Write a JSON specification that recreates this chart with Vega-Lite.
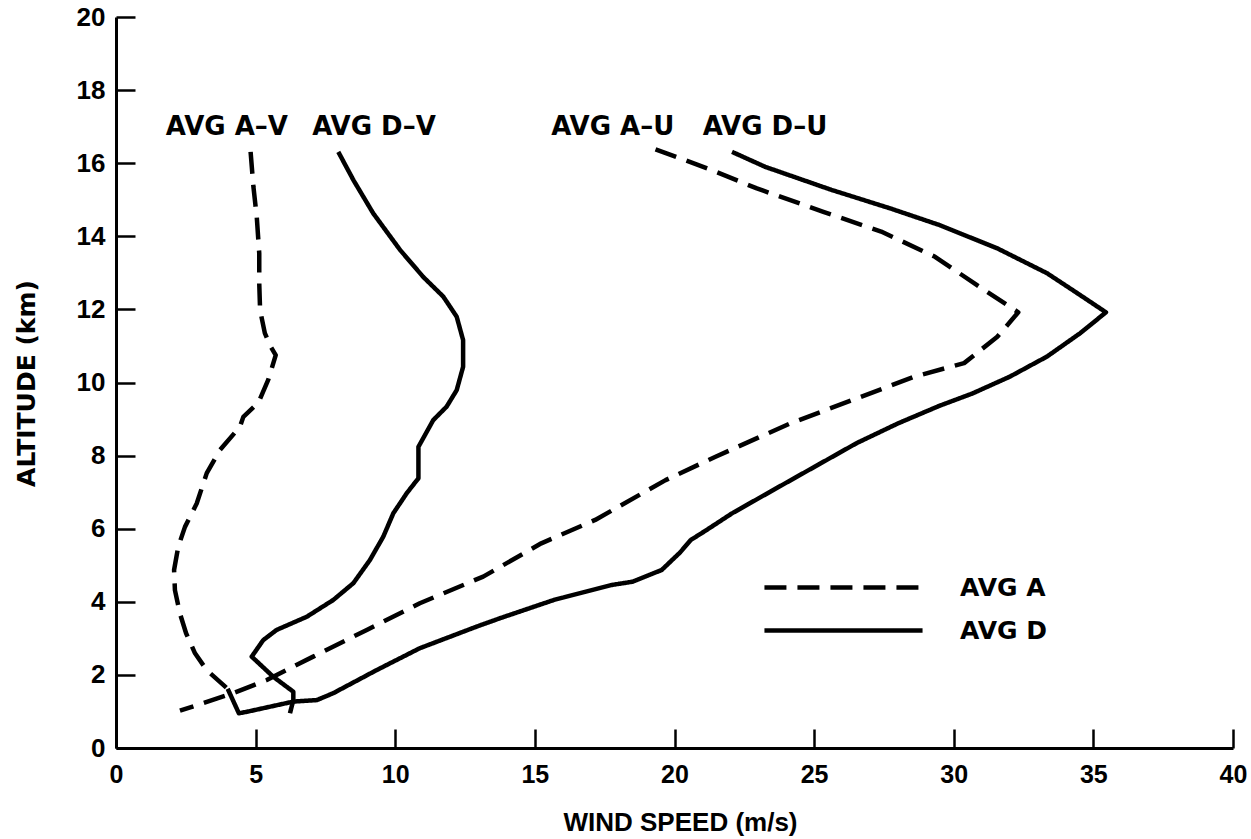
{
  "$schema": "https://vega.github.io/schema/vega-lite/v6.json",
  "width": 1117,
  "height": 731,
  "autosize": "none",
  "padding": {"left": 116, "top": 17, "right": 18, "bottom": 91},
  "background": "white",
  "config": {
    "view": {"stroke": null},
    "axis": {
      "domainColor": "black",
      "domainWidth": 3,
      "tickColor": "black",
      "tickWidth": 2.5,
      "tickSize": -19,
      "grid": false,
      "labelColor": "black",
      "labelFont": "Liberation Sans",
      "labelFontWeight": "bold",
      "labelOverlap": false,
      "labelFlush": false,
      "titleColor": "black"
    }
  },
  "datasets": {
    "curves": [
      {"series": "A-V", "group": "AVG A", "i": 1, "speed": 4.82, "alt": 16.31},
      {"series": "A-V", "group": "AVG A", "i": 2, "speed": 4.92, "alt": 15.36},
      {"series": "A-V", "group": "AVG A", "i": 3, "speed": 5.04, "alt": 14.54},
      {"series": "A-V", "group": "AVG A", "i": 4, "speed": 5.13, "alt": 13.53},
      {"series": "A-V", "group": "AVG A", "i": 5, "speed": 5.13, "alt": 12.71},
      {"series": "A-V", "group": "AVG A", "i": 6, "speed": 5.16, "alt": 11.98},
      {"series": "A-V", "group": "AVG A", "i": 7, "speed": 5.33, "alt": 11.35},
      {"series": "A-V", "group": "AVG A", "i": 8, "speed": 5.54, "alt": 10.98},
      {"series": "A-V", "group": "AVG A", "i": 9, "speed": 5.72, "alt": 10.75},
      {"series": "A-V", "group": "AVG A", "i": 10, "speed": 5.45, "alt": 10.07},
      {"series": "A-V", "group": "AVG A", "i": 11, "speed": 5.10, "alt": 9.45},
      {"series": "A-V", "group": "AVG A", "i": 12, "speed": 4.56, "alt": 9.06},
      {"series": "A-V", "group": "AVG A", "i": 13, "speed": 4.44, "alt": 8.79},
      {"series": "A-V", "group": "AVG A", "i": 14, "speed": 3.72, "alt": 8.15},
      {"series": "A-V", "group": "AVG A", "i": 15, "speed": 3.25, "alt": 7.52},
      {"series": "A-V", "group": "AVG A", "i": 16, "speed": 2.89, "alt": 6.69},
      {"series": "A-V", "group": "AVG A", "i": 17, "speed": 2.47, "alt": 6.05},
      {"series": "A-V", "group": "AVG A", "i": 18, "speed": 2.23, "alt": 5.51},
      {"series": "A-V", "group": "AVG A", "i": 19, "speed": 2.08, "alt": 4.87},
      {"series": "A-V", "group": "AVG A", "i": 20, "speed": 2.11, "alt": 4.32},
      {"series": "A-V", "group": "AVG A", "i": 21, "speed": 2.29, "alt": 3.68},
      {"series": "A-V", "group": "AVG A", "i": 22, "speed": 2.51, "alt": 3.14},
      {"series": "A-V", "group": "AVG A", "i": 23, "speed": 2.83, "alt": 2.59},
      {"series": "A-V", "group": "AVG A", "i": 24, "speed": 3.25, "alt": 2.13},
      {"series": "A-V", "group": "AVG A", "i": 25, "speed": 3.72, "alt": 1.81},
      {"series": "A-V", "group": "AVG A", "i": 26, "speed": 3.95, "alt": 1.65},

      {"series": "D-V", "group": "AVG D", "i": 1, "speed": 7.96, "alt": 16.31},
      {"series": "D-V", "group": "AVG D", "i": 2, "speed": 8.50, "alt": 15.54},
      {"series": "D-V", "group": "AVG D", "i": 3, "speed": 9.21, "alt": 14.63},
      {"series": "D-V", "group": "AVG D", "i": 4, "speed": 10.17, "alt": 13.63},
      {"series": "D-V", "group": "AVG D", "i": 5, "speed": 11.0, "alt": 12.89},
      {"series": "D-V", "group": "AVG D", "i": 6, "speed": 11.72, "alt": 12.35},
      {"series": "D-V", "group": "AVG D", "i": 7, "speed": 12.2, "alt": 11.8},
      {"series": "D-V", "group": "AVG D", "i": 8, "speed": 12.43, "alt": 11.16},
      {"series": "D-V", "group": "AVG D", "i": 9, "speed": 12.43, "alt": 10.43},
      {"series": "D-V", "group": "AVG D", "i": 10, "speed": 12.2, "alt": 9.79},
      {"series": "D-V", "group": "AVG D", "i": 11, "speed": 11.84, "alt": 9.34},
      {"series": "D-V", "group": "AVG D", "i": 12, "speed": 11.36, "alt": 8.97},
      {"series": "D-V", "group": "AVG D", "i": 13, "speed": 10.83, "alt": 8.24},
      {"series": "D-V", "group": "AVG D", "i": 14, "speed": 10.83, "alt": 7.38},
      {"series": "D-V", "group": "AVG D", "i": 15, "speed": 10.41, "alt": 6.97},
      {"series": "D-V", "group": "AVG D", "i": 16, "speed": 9.93, "alt": 6.42},
      {"series": "D-V", "group": "AVG D", "i": 17, "speed": 9.57, "alt": 5.78},
      {"series": "D-V", "group": "AVG D", "i": 18, "speed": 9.09, "alt": 5.14},
      {"series": "D-V", "group": "AVG D", "i": 19, "speed": 8.50, "alt": 4.51},
      {"series": "D-V", "group": "AVG D", "i": 20, "speed": 7.78, "alt": 4.05},
      {"series": "D-V", "group": "AVG D", "i": 21, "speed": 6.83, "alt": 3.59},
      {"series": "D-V", "group": "AVG D", "i": 22, "speed": 5.75, "alt": 3.23},
      {"series": "D-V", "group": "AVG D", "i": 23, "speed": 5.27, "alt": 2.95},
      {"series": "D-V", "group": "AVG D", "i": 24, "speed": 4.86, "alt": 2.50},
      {"series": "D-V", "group": "AVG D", "i": 25, "speed": 5.63, "alt": 1.95},
      {"series": "D-V", "group": "AVG D", "i": 26, "speed": 6.35, "alt": 1.54},
      {"series": "D-V", "group": "AVG D", "i": 27, "speed": 6.35, "alt": 1.31},
      {"series": "D-V", "group": "AVG D", "i": 28, "speed": 6.23, "alt": 0.95},

      {"series": "A-U", "group": "AVG A", "i": 1, "speed": 19.32, "alt": 16.38},
      {"series": "A-U", "group": "AVG A", "i": 2, "speed": 21.17, "alt": 15.86},
      {"series": "A-U", "group": "AVG A", "i": 3, "speed": 22.95, "alt": 15.31},
      {"series": "A-U", "group": "AVG A", "i": 4, "speed": 25.33, "alt": 14.67},
      {"series": "A-U", "group": "AVG A", "i": 5, "speed": 27.40, "alt": 14.13},
      {"series": "A-U", "group": "AVG A", "i": 6, "speed": 29.33, "alt": 13.44},
      {"series": "A-U", "group": "AVG A", "i": 7, "speed": 30.82, "alt": 12.67},
      {"series": "A-U", "group": "AVG A", "i": 8, "speed": 32.31, "alt": 11.92},
      {"series": "A-U", "group": "AVG A", "i": 9, "speed": 31.56, "alt": 11.25},
      {"series": "A-U", "group": "AVG A", "i": 10, "speed": 30.37, "alt": 10.53},
      {"series": "A-U", "group": "AVG A", "i": 11, "speed": 28.59, "alt": 10.16},
      {"series": "A-U", "group": "AVG A", "i": 12, "speed": 26.37, "alt": 9.52},
      {"series": "A-U", "group": "AVG A", "i": 13, "speed": 24.14, "alt": 8.88},
      {"series": "A-U", "group": "AVG A", "i": 14, "speed": 21.47, "alt": 7.97},
      {"series": "A-U", "group": "AVG A", "i": 15, "speed": 19.68, "alt": 7.33},
      {"series": "A-U", "group": "AVG A", "i": 16, "speed": 17.16, "alt": 6.24},
      {"series": "A-U", "group": "AVG A", "i": 17, "speed": 15.23, "alt": 5.60},
      {"series": "A-U", "group": "AVG A", "i": 18, "speed": 13.15, "alt": 4.69},
      {"series": "A-U", "group": "AVG A", "i": 19, "speed": 10.88, "alt": 3.96},
      {"series": "A-U", "group": "AVG A", "i": 20, "speed": 8.98, "alt": 3.23},
      {"series": "A-U", "group": "AVG A", "i": 21, "speed": 7.06, "alt": 2.50},
      {"series": "A-U", "group": "AVG A", "i": 22, "speed": 5.40, "alt": 1.86},
      {"series": "A-U", "group": "AVG A", "i": 23, "speed": 4.20, "alt": 1.50},
      {"series": "A-U", "group": "AVG A", "i": 24, "speed": 2.29, "alt": 1.02},

      {"series": "D-U", "group": "AVG D", "i": 1, "speed": 22.06, "alt": 16.31},
      {"series": "D-U", "group": "AVG D", "i": 2, "speed": 23.25, "alt": 15.90},
      {"series": "D-U", "group": "AVG D", "i": 3, "speed": 25.62, "alt": 15.27},
      {"series": "D-U", "group": "AVG D", "i": 4, "speed": 27.70, "alt": 14.77},
      {"series": "D-U", "group": "AVG D", "i": 5, "speed": 29.48, "alt": 14.31},
      {"series": "D-U", "group": "AVG D", "i": 6, "speed": 31.56, "alt": 13.67},
      {"series": "D-U", "group": "AVG D", "i": 7, "speed": 33.34, "alt": 12.99},
      {"series": "D-U", "group": "AVG D", "i": 8, "speed": 34.53, "alt": 12.39},
      {"series": "D-U", "group": "AVG D", "i": 9, "speed": 35.45, "alt": 11.92},
      {"series": "D-U", "group": "AVG D", "i": 10, "speed": 34.53, "alt": 11.35},
      {"series": "D-U", "group": "AVG D", "i": 11, "speed": 33.34, "alt": 10.71},
      {"series": "D-U", "group": "AVG D", "i": 12, "speed": 32.01, "alt": 10.16},
      {"series": "D-U", "group": "AVG D", "i": 13, "speed": 30.67, "alt": 9.70},
      {"series": "D-U", "group": "AVG D", "i": 14, "speed": 29.48, "alt": 9.36},
      {"series": "D-U", "group": "AVG D", "i": 15, "speed": 28.0, "alt": 8.88},
      {"series": "D-U", "group": "AVG D", "i": 16, "speed": 26.52, "alt": 8.34},
      {"series": "D-U", "group": "AVG D", "i": 17, "speed": 25.03, "alt": 7.70},
      {"series": "D-U", "group": "AVG D", "i": 18, "speed": 23.54, "alt": 7.06},
      {"series": "D-U", "group": "AVG D", "i": 19, "speed": 22.06, "alt": 6.42},
      {"series": "D-U", "group": "AVG D", "i": 20, "speed": 21.1, "alt": 5.94},
      {"series": "D-U", "group": "AVG D", "i": 21, "speed": 20.58, "alt": 5.69},
      {"series": "D-U", "group": "AVG D", "i": 22, "speed": 20.2, "alt": 5.35},
      {"series": "D-U", "group": "AVG D", "i": 23, "speed": 19.54, "alt": 4.87},
      {"series": "D-U", "group": "AVG D", "i": 24, "speed": 18.50, "alt": 4.55},
      {"series": "D-U", "group": "AVG D", "i": 25, "speed": 17.75, "alt": 4.46},
      {"series": "D-U", "group": "AVG D", "i": 26, "speed": 15.68, "alt": 4.05},
      {"series": "D-U", "group": "AVG D", "i": 27, "speed": 13.75, "alt": 3.55},
      {"series": "D-U", "group": "AVG D", "i": 28, "speed": 12.91, "alt": 3.32},
      {"series": "D-U", "group": "AVG D", "i": 29, "speed": 10.88, "alt": 2.73},
      {"series": "D-U", "group": "AVG D", "i": 30, "speed": 9.33, "alt": 2.13},
      {"series": "D-U", "group": "AVG D", "i": 31, "speed": 7.78, "alt": 1.50},
      {"series": "D-U", "group": "AVG D", "i": 32, "speed": 7.19, "alt": 1.31},
      {"series": "D-U", "group": "AVG D", "i": 33, "speed": 6.35, "alt": 1.27},
      {"series": "D-U", "group": "AVG D", "i": 34, "speed": 4.68, "alt": 0.99},
      {"series": "D-U", "group": "AVG D", "i": 35, "speed": 4.40, "alt": 0.95},
      {"series": "D-U", "group": "AVG D", "i": 36, "speed": 4.0, "alt": 1.62}
    ],
    "labels": [
      {"text": "AVG A–V", "speed": 3.97, "alt": 16.99},
      {"text": "AVG D–V", "speed": 9.24, "alt": 16.99},
      {"text": "AVG A–U", "speed": 17.79, "alt": 16.99},
      {"text": "AVG D–U", "speed": 23.24, "alt": 16.99}
    ]
  },
  "layer": [
    {
      "data": {"name": "curves"},
      "mark": {"type": "line", "color": "black", "strokeWidth": 4.5, "strokeJoin": "round", "strokeCap": "butt"},
      "encoding": {
        "x": {
          "field": "speed", "type": "quantitative",
          "scale": {"domain": [0, 40], "nice": false, "zero": false},
          "axis": {
            "values": [0, 5, 10, 15, 20, 25, 30, 35, 40],
            "labelFontSize": 25,
            "labelPadding": 33,
            "title": "WIND SPEED (m/s)",
            "titleFont": "Liberation Sans",
            "titleFontWeight": "bold",
            "titleFontSize": 26,
            "titleX": 564,
            "titleY": 82,
            "titleBaseline": "alphabetic",
            "titleAlign": "center"
          }
        },
        "y": {
          "field": "alt", "type": "quantitative",
          "scale": {"domain": [0, 20], "nice": false, "zero": false},
          "axis": {
            "values": [0, 2, 4, 6, 8, 10, 12, 14, 16, 18, 20],
            "labelFontSize": 26,
            "labelPadding": 30,
            "title": "ALTITUDE (km)",
            "titleFont": "DejaVu Sans",
            "titleFontWeight": "bold",
            "titleFontSize": 25,
            "titleAngle": 270,
            "titleX": -90,
            "titleY": 366,
            "titleAlign": "center",
            "titleBaseline": "middle"
          }
        },
        "detail": {"field": "series"},
        "order": {"field": "i", "type": "quantitative"},
        "strokeDash": {
          "field": "group", "type": "nominal",
          "scale": {"domain": ["AVG A", "AVG D"], "range": [[22, 11], [1, 0]]},
          "legend": {
            "title": null,
            "orient": "none",
            "legendX": 709,
            "legendY": 552,
            "padding": 0,
            "symbolType": "M-5,0H5",
            "symbolSize": 1000,
            "symbolStrokeWidth": 4.5,
            "symbolStrokeColor": "black",
            "symbolFillColor": "transparent",
            "labelFont": "DejaVu Sans",
            "labelFontWeight": "bold",
            "labelFontSize": 25,
            "labelColor": "black",
            "labelOffset": 98,
            "rowPadding": 11
          }
        }
      }
    },
    {
      "data": {"name": "labels"},
      "mark": {"type": "text", "font": "DejaVu Sans", "fontWeight": "bold", "fontSize": 26, "color": "black", "align": "center", "baseline": "middle"},
      "encoding": {
        "x": {"field": "speed", "type": "quantitative"},
        "y": {"field": "alt", "type": "quantitative"},
        "text": {"field": "text"}
      }
    }
  ]
}
